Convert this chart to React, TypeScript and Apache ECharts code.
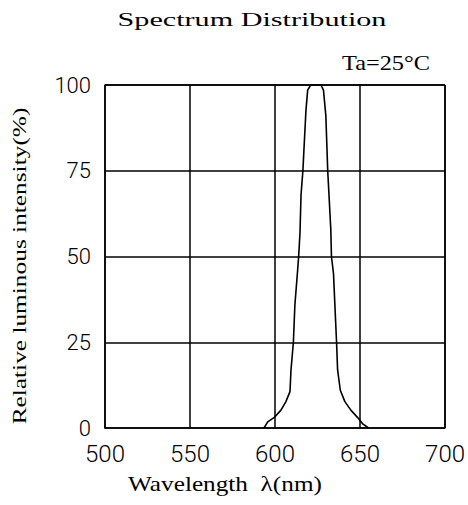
import React, { useEffect, useRef } from "react";
import * as echarts from "echarts";

const xTicks = [500, 550, 600, 650, 700];
const yTicks = [0, 25, 50, 75, 100];
const wavelength = [
  593.5, 595.7, 599.6, 603.5, 606.4, 608.8, 609.4, 610.8, 611.7, 613.3, 613.9,
  614.7, 615.3, 616.4, 617.0, 618.2, 619.2, 621.0, 624.0, 627.0, 628.5, 629.9,
  631.0, 632.8, 633.2, 634.4, 635.2, 636.2, 636.8, 638.4, 641.1, 644.6, 648.5,
  651.4, 655.0,
];
const intensity = [
  0, 1.8, 3.1, 5.2, 7.7, 10.6, 16.9, 25, 36, 46, 50, 57, 68, 75, 81, 92.6,
  98.5, 100, 100, 100, 98.5, 91, 75, 58, 50, 45, 36, 25, 17, 11, 7.7, 5.2, 3.1,
  1.3, 0,
];
const titleText = "Spectrum Distribution";
const conditionText = "Ta=25°C";
const xName = "Wavelength  λ(nm)";
const yName = "Relative luminous intensity(%)";

const serifName = "Liberation Serif";
const serif = "'Liberation Serif', 'DejaVu Serif', serif";
const sans = "Roboto, 'Liberation Sans', 'DejaVu Sans', sans-serif";

function measure(text: string, size: number): number {
  const ctx = document.createElement("canvas").getContext("2d");
  if (!ctx) return text.length * size * 0.5;
  ctx.font = `${size}px "${serifName}", serif`;
  return ctx.measureText(text).width || text.length * size * 0.5;
}

function stretchedText(
  text: string,
  size: number,
  width: number,
  x: number,
  y: number,
  rotation = 0
) {
  return {
    type: "text",
    x,
    y,
    rotation,
    scaleX: width / measure(text, size),
    style: {
      text,
      fontFamily: serif,
      fontSize: size,
      fill: "#000",
      align: "center",
      verticalAlign: "middle",
    },
  };
}

export default function App() {
  const ref = useRef<HTMLDivElement>(null);
  useEffect(() => {
    if (!ref.current) return;
    const chart = echarts.init(ref.current, undefined, { renderer: "svg" });
    chart.setOption({
      animation: false,
      backgroundColor: "#ffffff",
      graphic: [
        stretchedText(titleText, 19, 269, 252, 19.5),
        stretchedText(conditionText, 20, 88, 386, 63),
        stretchedText(xName, 20, 194, 225, 484),
        stretchedText(yName, 19, 317, 20, 266, Math.PI / 2),
      ],
      grid: { left: 105, right: 21, top: 85, bottom: 77 },
      xAxis: {
        type: "value",
        min: xTicks[0],
        max: xTicks[xTicks.length - 1],
        interval: 50,
        axisLine: { show: true, lineStyle: { color: "#000", width: 1.5 } },
        axisTick: { show: false },
        axisLabel: {
          margin: 14,
          fontFamily: sans,
          fontWeight: 300,
          fontSize: 24,
          color: "#000",
        },
        splitLine: { show: true, lineStyle: { color: "#000", width: 1.5 } },
      },
      yAxis: {
        type: "value",
        min: yTicks[0],
        max: yTicks[yTicks.length - 1],
        interval: 25,
        axisLine: { show: true, lineStyle: { color: "#000", width: 1.5 } },
        axisTick: { show: false },
        axisLabel: {
          margin: 14,
          fontFamily: sans,
          fontWeight: 300,
          fontSize: 22,
          color: "#000",
          padding: [0, 0, 5, 0],
        },
        splitLine: { show: true, lineStyle: { color: "#000", width: 1.5 } },
      },
      series: [
        {
          type: "line",
          data: wavelength.map((w, i) => [w, intensity[i]]),
          showSymbol: false,
          symbol: "none",
          smooth: false,
          clip: false,
          lineStyle: { color: "#000", width: 1.6 },
          markLine: {
            silent: true,
            symbol: "none",
            label: { show: false },
            lineStyle: { color: "#000", width: 1.5, type: "solid" },
            data: [{ xAxis: 700 }, { yAxis: 100 }],
          },
        },
      ],
    });
    return () => chart.dispose();
  }, []);
  return (
    <div
      ref={ref}
      style={{ position: "fixed", left: 0, top: 0, width: 468, height: 505 }}
    />
  );
}
